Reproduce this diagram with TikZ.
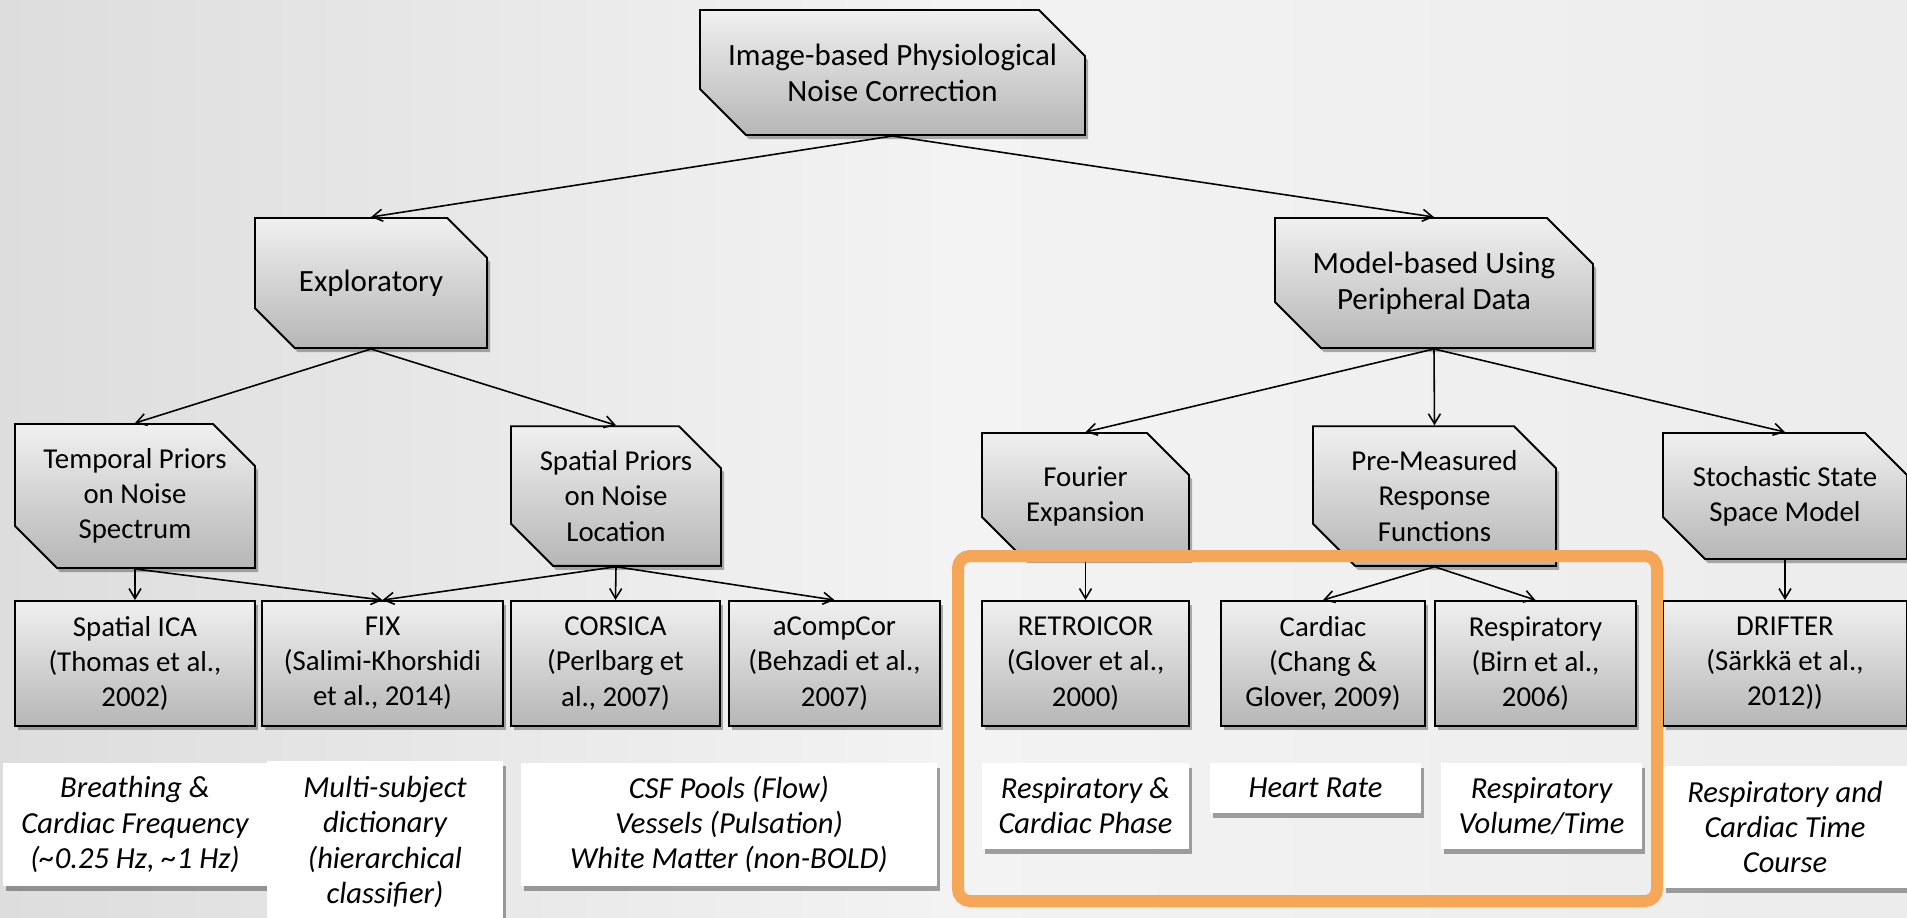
\documentclass[tikz,border=0pt]{standalone}
\usepackage{fontspec}
\setmainfont{Carlito}
\usepackage{tikz}
\usetikzlibrary{arrows.meta,shapes.misc,shadows}
\definecolor{bgleft}{RGB}{221,221,221}
\definecolor{bgmid}{RGB}{243,243,243}
\definecolor{bgright}{RGB}{236,236,236}
\definecolor{boxtop}{RGB}{240,240,240}
\definecolor{boxbot}{RGB}{182,182,182}
\definecolor{hlorange}{RGB}{245,166,87}
\tikzset{
  snip/.style={chamfered rectangle, chamfered rectangle corners={north east,south west},
               chamfered rectangle xsep=0.21cm, chamfered rectangle ysep=0.21cm,
               draw=black, line width=0.55pt, top color=boxtop, bottom color=boxbot,
               drop shadow={shadow xshift=0.03cm, shadow yshift=-0.04cm, opacity=0.3, fill=black},
               align=center, inner sep=1pt, font=\fontsize{8.2}{10}\selectfont},
  bigsnip/.style={snip, chamfered rectangle xsep=0.23cm, chamfered rectangle ysep=0.23cm,
                  font=\fontsize{8.8}{10.2}\selectfont},
  method/.style={rectangle, draw=black, line width=0.55pt, top color=boxtop, bottom color=boxbot,
                 drop shadow={shadow xshift=0.03cm, shadow yshift=-0.04cm, opacity=0.3, fill=black},
                 align=center, inner sep=1pt, minimum height=1.25cm, font=\fontsize{8.2}{10}\selectfont},
  note/.style={rectangle, fill=white,
               drop shadow={shadow xshift=0.03cm, shadow yshift=-0.05cm, opacity=0.35, fill=black},
               align=center, inner sep=1pt, font=\fontsize{8.7}{10}\selectfont\itshape},
  link/.style={-{Straight Barb[length=1mm,width=1.2mm]}, line width=0.45pt, black}
}

\begin{document}
\begin{tikzpicture}[x=1cm,y=-1cm]
  \useasboundingbox (0,0) rectangle (19.07,9.17);
  \shade[left color=bgleft, right color=bgright, middle color=bgmid] (0,0) rectangle (19.07,9.17);

  % top of the tree
  \node[bigsnip, minimum width=3.85cm, minimum height=1.25cm] (root) at (8.925,0.725)
    {Image-based Physiological\\Noise Correction};
  \node[bigsnip, minimum width=2.32cm, minimum height=1.30cm] (expl) at (3.71,2.83) {Exploratory};
  \node[bigsnip, minimum width=3.18cm, minimum height=1.30cm] (model) at (14.34,2.83)
    {Model-based Using\\Peripheral Data};

  % second level
  \foreach \n/\x/\w/\txt in {tmp/1.35/2.40/{Temporal Priors\\on Noise\\Spectrum},
                             spp/6.16/2.10/{Spatial Priors\\on Noise\\Location},
                             fou/10.855/2.07/{Fourier\\Expansion},
                             pre/14.345/2.43/{Pre-Measured\\Response\\Functions},
                             sto/17.85/2.44/{Stochastic State\\Space Model}}
    \node[snip, minimum width=\w cm, minimum height=1.26cm] (\n) at (\x,4.96) {\txt};

  % methods
  \foreach \n/\x/\w/\txt in {ica/1.35/2.40/{Spatial ICA\\(Thomas et al.,\\2002)},
                             fix/3.825/2.41/{FIX\\(Salimi-Khorshidi\\et al., 2014)},
                             cor/6.155/2.09/{CORSICA\\(Perlbarg et\\al., 2007)},
                             acc/8.345/2.11/{aCompCor\\(Behzadi et al.,\\2007)},
                             ret/10.855/2.07/{RETROICOR\\(Glover et al.,\\2000)},
                             car/13.23/2.04/{Cardiac\\(Chang \&\\Glover, 2009)},
                             res/15.355/2.01/{Respiratory\\(Birn et al.,\\2006)},
                             dri/17.85/2.44/{DRIFTER\\(Särkkä et al.,\\2012))}}
    \node[method, minimum width=\w cm] (\n) at (\x,6.635) {\txt};

  % what each method models
  \node[note, minimum width=2.64cm, minimum height=1.23cm] (n1) at (1.35,8.245)
    {Breathing \&\\Cardiac Frequency\\(\textasciitilde0.25 Hz, \textasciitilde1 Hz)};
  \node[note, minimum width=2.36cm, minimum height=1.62cm] (n2) at (3.85,8.42)
    {Multi-subject\\dictionary\\(hierarchical\\classifier)};
  \node[note, minimum width=4.16cm, minimum height=1.23cm] (n3) at (7.29,8.245)
    {CSF Pools (Flow)\\Vessels (Pulsation)\\White Matter (non-BOLD)};
  \node[note, minimum width=2.07cm, minimum height=0.86cm] (n4) at (10.855,8.06)
    {Respiratory \&\\Cardiac Phase};
  \node[note, minimum width=2.11cm, minimum height=0.50cm] (n5) at (13.155,7.88) {Heart Rate};
  \node[note, minimum width=2.01cm, minimum height=0.86cm] (n6) at (15.415,8.06)
    {Respiratory\\Volume/Time};
  \node[note, minimum width=2.44cm, minimum height=1.22cm] (n7) at (17.85,8.27)
    {Respiratory and\\Cardiac Time\\Course};

  % connectors
  \foreach \a/\b in {root/expl, root/model, expl/tmp, expl/spp, model/fou, model/pre, model/sto,
                     tmp/ica, tmp/fix, spp/fix, spp/cor, spp/acc, fou/ret, pre/car, pre/res, sto/dri}
    \draw[link] (\a.south) -- (\b.north);

  % highlight
  \draw[hlorange, line width=0.12cm, rounded corners=0.12cm] (9.58,5.56) rectangle (16.57,9.01);
\end{tikzpicture}
\end{document}
